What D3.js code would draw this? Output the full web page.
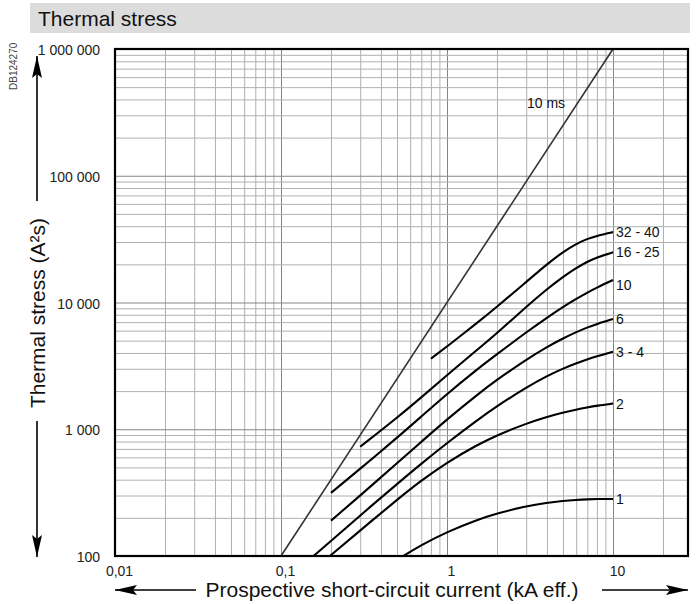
<!DOCTYPE html>
<html><head><meta charset="utf-8">
<script src="https://cdn.jsdelivr.net/npm/d3@7"></script>
<style>
body{margin:0;background:#fff}
text{font-family:"Liberation Sans",Arial,Helvetica,sans-serif}
</style>
</head><body><svg id="c" width="696" height="604"></svg>
<script>
// ---- data ----
const xTickValues = [0.01, 0.1, 1, 10];
const xTickLabels = ["0,01", "0,1", "1", "10"];
const yTickValues = [100, 1000, 10000, 100000, 1000000];
const yTickLabels = ["100", "1 000", "10 000", "100 000", "1 000 000"];

const seriesNames = ["1", "2", "3 - 4", "6", "10", "16 - 25", "32 - 40"];
const current_1   = [0.546, 0.7, 1, 1.5, 2, 3, 4, 5, 6, 7, 8, 10];
const stress_1    = [100, 122, 155, 192, 217, 247, 263, 272, 277, 280, 281.5, 282];
const current_2   = [0.197, 0.3, 0.5, 0.7, 1, 1.5, 2, 3, 4, 5, 6, 7, 8, 10];
const stress_2    = [100, 159, 278, 394, 547, 747, 898, 1109, 1251, 1353, 1429, 1487, 1534, 1595];
const current_3_4 = [0.157, 0.2, 0.3, 0.5, 0.7, 1, 1.5, 2, 3, 4, 5, 6, 7, 8, 10];
const stress_3_4  = [100, 131, 209, 370, 535, 779, 1164, 1521, 2139, 2631, 3015, 3321, 3565, 3761, 4094];
const current_6   = [0.2, 0.3, 0.5, 0.7, 1, 1.5, 2, 3, 4, 5, 6, 7, 8, 10];
const stress_6    = [190, 300, 539, 796, 1196, 1846, 2461, 3545, 4462, 5216, 5840, 6357, 6778, 7411];
const current_10  = [0.2, 0.3, 0.5, 0.7, 1, 1.5, 2, 3, 4, 5, 6, 7, 8, 10];
const stress_10   = [315, 488, 856, 1261, 1900, 2932, 3909, 5817, 7603, 9230, 10679, 11969, 13106, 15050];
const current_16_25 = [0.3, 0.5, 0.7, 1, 1.5, 2, 3, 4, 5, 6, 7, 8, 10];
const stress_16_25  = [728, 1232, 1784, 2670, 4172, 5726, 9236, 12746, 15933, 18707, 21000, 22752, 24880];
const current_32_40 = [0.8, 1, 1.5, 2, 3, 4, 5, 6, 7, 8, 10];
const stress_32_40  = [3600, 4500, 6805, 9228, 14535, 20060, 25075, 29020, 31830, 33580, 35900];
const current_10ms = [0.1, 10];
const stress_10ms  = [100, 1000000];
const label10ms = {text: "10 ms", current: 3.03, stress: 342000};

const title = "Thermal stress";
const yTitle = "Thermal stress (A²s)";
const xTitle = "Prospective short-circuit current (kA eff.)";
const docRef = "DB124270";

// ---- chart ----
const svg = d3.select("#c");
const L = 115, R = 688, T = 49, B = 556;
const x = d3.scaleLog().domain([0.01, 28.3]).range([L, R]);
const y = d3.scaleLog().domain([100, 1000000]).range([B, T]);

// title bar
svg.append("rect").attr("x", 30).attr("y", 3).attr("width", 660).attr("height", 30).attr("fill", "#dcdcdd");
svg.append("text").attr("x", 38).attr("y", 26).attr("font-size", 21).attr("fill", "#111").text(title);

// doc ref
svg.append("text").attr("transform", "translate(17,90) rotate(-90)").attr("font-size", 10).attr("fill", "#444").text(docRef);

// grid values
const gridX = [];
[0.01, 0.1, 1, 10].forEach(d => { for (let m = 1; m <= 9; m++) { const v = d * m; if (v <= x.domain()[1]) gridX.push(+v.toPrecision(3)); } });
const gridY = [];
[100, 1000, 10000, 100000].forEach(d => { for (let m = 1; m <= 9; m++) gridY.push(d * m); });
gridY.push(1000000);
const isMajor = v => Math.abs(Math.log10(v) - Math.round(Math.log10(v))) < 1e-6;

const gx = svg.append("g").attr("transform", `translate(0,${B})`)
  .call(d3.axisBottom(x).tickValues(gridX).tickSize(-(B - T)).tickFormat(""));
gx.select(".domain").remove();
gx.selectAll(".tick line").attr("stroke", d => isMajor(d) ? "#858585" : "#b0b0b0").attr("stroke-width", 1);

const gy = svg.append("g").attr("transform", `translate(${L},0)`)
  .call(d3.axisLeft(y).tickValues(gridY).tickSize(-(R - L)).tickFormat(""));
gy.select(".domain").remove();
gy.selectAll(".tick line").attr("stroke", d => isMajor(d) ? "#858585" : "#b0b0b0").attr("stroke-width", 1);

// tick labels
const ax = svg.append("g").attr("transform", `translate(0,${B})`)
  .call(d3.axisBottom(x).tickValues(xTickValues).tickSize(0).tickPadding(10)
    .tickFormat((d, i) => xTickLabels[i]));
ax.select(".domain").remove();
ax.selectAll("text").attr("font-size", 14).attr("fill", "#222").attr("font-family", null).attr("dx", 4);

const ay = svg.append("g").attr("transform", `translate(${L},0)`)
  .call(d3.axisLeft(y).tickValues(yTickValues).tickSize(0).tickPadding(15)
    .tickFormat((d, i) => yTickLabels[i]));
ay.select(".domain").remove();
ay.selectAll("text").attr("font-size", 14).attr("fill", "#222").attr("font-family", null).attr("dy", "0.4em");

// curves
const line = d3.line().x(d => x(d[0])).y(d => y(d[1])).curve(d3.curveBasis);
const zip = (a, b) => a.map((v, i) => [v, b[i]]);

svg.append("path").datum(zip(current_10ms, stress_10ms)).attr("d", line)
  .attr("fill", "none").attr("stroke", "#333").attr("stroke-width", 1.6);
svg.append("text").attr("x", x(label10ms.current)).attr("y", y(label10ms.stress))
  .attr("font-size", 14).attr("fill", "#111").text(label10ms.text);

const curves = [
  [current_1, stress_1], [current_2, stress_2], [current_3_4, stress_3_4],
  [current_6, stress_6], [current_10, stress_10], [current_16_25, stress_16_25],
  [current_32_40, stress_32_40]
];
curves.forEach(([cx, cy], i) => {
  const pts = zip(cx, cy);
  svg.append("path").datum(pts).attr("d", line)
    .attr("fill", "none").attr("stroke", "#000").attr("stroke-width", 2.1);
  const last = pts[pts.length - 1];
  svg.append("text").attr("x", x(last[0]) + 3).attr("y", y(last[1]) + (seriesNames[i] === "10" ? 5 : 0))
    .attr("dy", "0.36em").attr("font-size", 14).attr("fill", "#111").text(seriesNames[i]);
});

// frame
svg.append("rect").attr("x", L).attr("y", T).attr("width", R - L).attr("height", B - T)
  .attr("fill", "none").attr("stroke", "#000").attr("stroke-width", 2.2);

// axis titles and arrows
const defs = svg.append("defs");
defs.append("marker").attr("id", "ah").attr("viewBox", "0 0 22 10").attr("refX", 22).attr("refY", 5)
  .attr("markerWidth", 22).attr("markerHeight", 10).attr("markerUnits", "userSpaceOnUse").attr("orient", "auto")
  .append("path").attr("d", "M0,0 L22,5 L0,10 L4,5 Z").attr("fill", "#000");

const arrow = (x1, y1, x2, y2) => svg.append("line").attr("x1", x1).attr("y1", y1).attr("x2", x2).attr("y2", y2)
  .attr("stroke", "#000").attr("stroke-width", 1.6).attr("marker-end", "url(#ah)");
arrow(37, 201, 37, 56);
arrow(37, 421, 37, 557);
arrow(196, 590, 115, 590);
arrow(602, 590, 688, 590);

svg.append("text").attr("transform", "translate(45,313) rotate(-90)").attr("text-anchor", "middle")
  .attr("font-size", 21).attr("fill", "#111").text(yTitle);
svg.append("text").attr("x", 392).attr("y", 597).attr("text-anchor", "middle")
  .attr("font-size", 21).attr("fill", "#111").text(xTitle);
</script></body></html>
